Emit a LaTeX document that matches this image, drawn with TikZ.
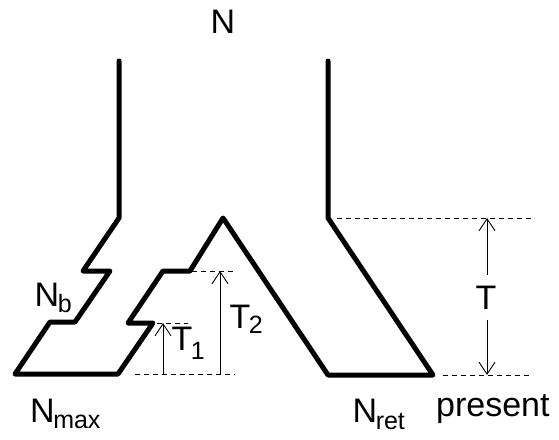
\documentclass[tikz,border=0pt]{standalone}
\usepackage{fontspec}
\setmainfont{Liberation Sans}
\usetikzlibrary{arrows.meta}
\newcommand{\lowtext}[2][6pt]{\kern-1.5pt\raisebox{-#1}{\fontsize{25}{25}\selectfont #2}}
\begin{document}
\begin{tikzpicture}[x=1pt,y=-1pt,
  branch/.style={line width=5pt,line join=round,line cap=round},
  guide/.style={line width=0.8pt,dash pattern=on 5pt off 4pt},
  span/.style={line width=0.9pt,-{Straight Barb[length=12pt,width=16pt,line width=0.9pt]}},
  lbl/.style={inner sep=0pt,anchor=base west,font=\fontsize{34}{36}\selectfont}]
\useasboundingbox (0,0) rectangle (559,439);

% population outline
\draw[branch] (119,61) -- (119,218) -- (83,271) -- (110,271) -- (75,322)
  -- (50,322) -- (15,374) -- (118,374) -- (153,323) -- (128,323)
  -- (163,271) -- (190,271) -- (223,218) -- (328,375) -- (433,375)
  -- (328,218) -- (328,61);

% reference levels
\draw[guide] (337,218) -- (533,218);
\draw[guide] (443,375) -- (533,375);
\draw[guide] (192,271) -- (235,271);
\draw[guide] (135,374) -- (235,374);
\draw[guide] (157,323) -- (188,323);

% labels
\node[lbl,anchor=base] (N) at (223,33) {N};
\node[lbl] (Nb) at (34.5,306) {N\lowtext[6pt]{b}};
\node[lbl] (Nmax) at (30,422) {N\lowtext{max}};
\node[lbl] (Nret) at (352.5,422) {N\lowtext[7pt]{ret}};
\node[lbl] (present) at (436,416) {present};
\node[lbl] (T2) at (229.5,328) {T\lowtext[5pt]{2}};
\node[lbl] (T1) at (171.5,350) {T\lowtext[9pt]{1}};
\node[lbl,anchor=base,inner xsep=2pt,inner ysep=10.5pt] (T) at (486,309) {T};

% time spans
\coordinate (Ttop) at (487,218);
\coordinate (Tbot) at (487,375);
\coordinate (T2bot) at (220,374);
\coordinate (T2top) at (220,271);
\coordinate (T1bot) at (163,374);
\coordinate (T1top) at (163,323);
\draw[span] (T.north -| Ttop) -- (Ttop);
\draw[span] (T.south -| Tbot) -- (Tbot);
\draw[span] (T2bot) -- (T2top);
\draw[span] (T1bot) -- (T1top);
\end{tikzpicture}
\end{document}
